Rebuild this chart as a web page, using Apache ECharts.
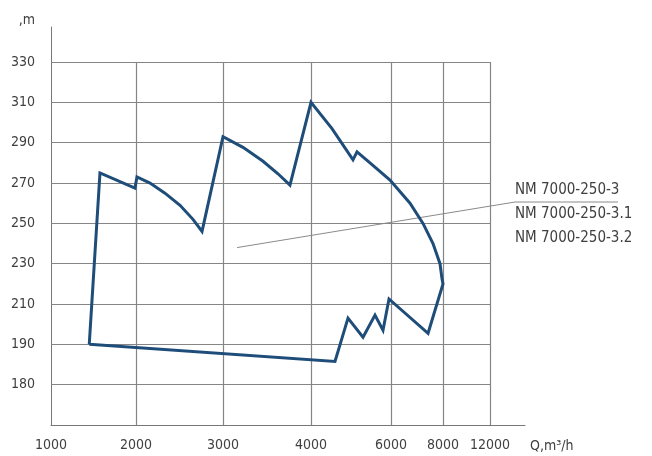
<!DOCTYPE html>
<html>
<head>
<meta charset="utf-8">
<script src="https://cdn.jsdelivr.net/npm/echarts@6/dist/echarts.min.js"></script>
<style>
  html, body { margin: 0; padding: 0; background: #fff; }
  #chart { width: 652px; height: 456px; }
</style>
</head>
<body>
<div id="chart"></div>
<script>
// ---- data ----
const qTicks = [1000, 2000, 3000, 4000, 6000, 8000, 12000];
const qTickLabels = ['1000', '2000', '3000', '4000', '6000', '8000', '12000'];
const hTicks = [180, 190, 210, 230, 250, 270, 290, 310, 330];
const hTickLabels = ['180', '190', '210', '230', '250', '270', '290', '310', '330'];

// operating field outline (Q in m3/h, H in m), traced in order
const flowQ = [1450, 1576, 1988, 2011, 2161, 2333, 2506, 2655, 2759,
               3000, 3227, 3455, 3625, 3761,
               4000, 4525, 5050, 5150, 5475, 5975, 6731, 7231, 7615, 7885, 7962, 8000,
               7425, 5950, 5800, 5600, 5300, 4925, 4600, 1450];
const headH = [190, 275, 267.5, 273, 270, 265, 259, 252, 246,
               293, 287.7, 280.8, 274.6, 269,
               310, 297, 281.5, 285.5, 280, 271.5, 260, 250, 240, 230, 222.5, 220,
               195.5, 212.5, 197, 204.5, 193.5, 203, 185.75, 190];

const seriesNames = ['NM 7000-250-3', 'NM 7000-250-3.1', 'NM 7000-250-3.2'];
const calloutAnchor = [3160, 238];

// ---- non-uniform axis scales of the original diagram ----
const qScaleStops = [0, 85, 172, 260, 340, 392, 439];   // axis units at each Q tick
const hScaleStops = [1, 2, 3, 4, 5, 6, 7, 8, 9];          // axis units at each H tick
const X_MAX = 474, Y_MAX = 9.87;

function interp(v, xs, ys) {
  let i = 0;
  if (v <= xs[0]) i = 0;
  else if (v >= xs[xs.length - 1]) i = xs.length - 2;
  else { while (v > xs[i + 1]) i++; }
  const t = (v - xs[i]) / (xs[i + 1] - xs[i]);
  return ys[i] + t * (ys[i + 1] - ys[i]);
}
const qToU = q => interp(q, qTicks, qScaleStops);
const hToV = h => interp(h, hTicks, hScaleStops);

const outline = flowQ.map((q, i) => [qToU(q), hToV(headH[i])]);

const gridLines = [];
qScaleStops.slice(1).forEach(u => gridLines.push([{ coord: [u, 0] }, { coord: [u, hScaleStops[hScaleStops.length - 1]] }]));
hScaleStops.forEach(v => gridLines.push([{ coord: [0, v] }, { coord: [qScaleStops[qScaleStops.length - 1], v] }]));

const FONT = "'Liberation Sans Narrow', 'Arial Narrow', 'DejaVu Sans Condensed', sans-serif";
const TXT = '#3f3f3f';
const chart = echarts.init(document.getElementById('chart'), null, { renderer: 'canvas' });

chart.setOption({
  animation: false,
  backgroundColor: '#ffffff',
  grid: { left: 51, right: 127, top: 27, bottom: 31, containLabel: false },
  xAxis: {
    type: 'value', min: 0, max: X_MAX,
    name: 'Q,m³/h', nameLocation: 'end', nameGap: 5,
    nameTextStyle: { fontFamily: FONT, fontSize: 14, color: TXT, align: 'left', verticalAlign: 'top', padding: [14, 0, 0, 0] },
    axisLine: { show: true, lineStyle: { color: '#777', width: 1 } },
    axisTick: { show: false },
    splitLine: { show: false },
    axisLabel: {
      customValues: qScaleStops, margin: 13,
      fontFamily: FONT, fontSize: 14, color: TXT,
      formatter: v => { const i = qScaleStops.findIndex(s => Math.abs(s - v) < 1e-6); return i >= 0 ? qTickLabels[i] : ''; }
    }
  },
  yAxis: {
    type: 'value', min: 0, max: Y_MAX,
    name: ',m', nameLocation: 'end', nameGap: 7,
    nameTextStyle: { fontFamily: FONT, fontSize: 14, color: TXT, align: 'right', verticalAlign: 'middle', padding: [0, 16, 0, 0] },
    axisLine: { show: true, lineStyle: { color: '#777', width: 1 } },
    axisTick: { show: false },
    splitLine: { show: false },
    axisLabel: {
      customValues: hScaleStops, margin: 16,
      fontFamily: FONT, fontSize: 14, color: TXT,
      formatter: v => { const i = hScaleStops.findIndex(s => Math.abs(s - v) < 1e-6); return i >= 0 ? hTickLabels[i] : ''; }
    }
  },
  series: [
    {
      type: 'line', name: 'grid', data: [], silent: true,
      markLine: {
        silent: true, symbol: ['none', 'none'], label: { show: false },
        lineStyle: { color: '#858585', width: 1.2, type: 'solid' },
        data: gridLines, animation: false
      }
    },
    {
      type: 'line', name: seriesNames[0], data: outline, showSymbol: false, z: 5,
      lineStyle: { color: '#1f4d7a', width: 3, join: 'miter' }
    }
  ]
});

// callout line and labels
const a = chart.convertToPixel({ gridIndex: 0 }, [qToU(calloutAnchor[0]), hToV(calloutAnchor[1])]);
const LBL = '15px ' + FONT;
chart.setOption({
  graphic: [
    { type: 'polyline', shape: { points: [a, [515, 202], [618, 202]] }, style: { stroke: '#8a8a8a', lineWidth: 1, fill: null }, silent: true },
    { type: 'text', x: 515, y: 190, style: { text: seriesNames[0], fill: TXT, font: LBL, textVerticalAlign: 'middle' } },
    { type: 'text', x: 515, y: 214, style: { text: seriesNames[1], fill: TXT, font: LBL, textVerticalAlign: 'middle' } },
    { type: 'text', x: 515, y: 238, style: { text: seriesNames[2], fill: TXT, font: LBL, textVerticalAlign: 'middle' } }
  ]
});
</script>
</body>
</html>
